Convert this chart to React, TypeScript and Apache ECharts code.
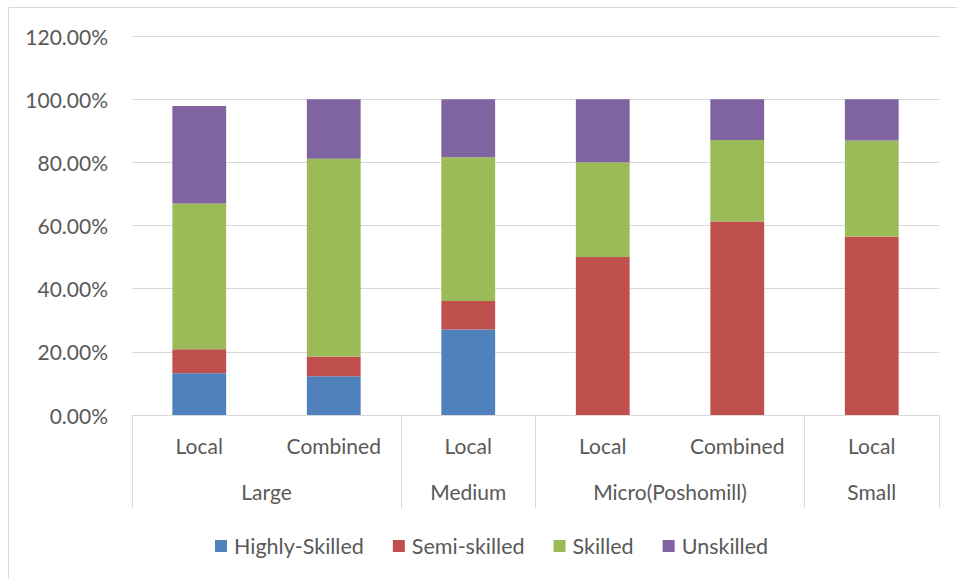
import React, { useEffect, useRef } from "react";
import * as echarts from "echarts";

// Sub-categories along the x axis, left to right
const subCategories = ["Local", "Combined", "Local", "Local", "Combined", "Local"];
// Enterprise size groups and how many sub-categories each spans
const groups = ["Large", "Medium", "Micro(Poshomill)", "Small"];
const groupSpans = [2, 1, 2, 1];

// Share of workers by skill level (%)
const highlySkilled = [13.2, 12.3, 27.1, 0, 0, 0];
const semiSkilled = [7.6, 6.2, 9.0, 50.0, 61.3, 56.5];
const skilled = [46.2, 62.6, 45.5, 30.0, 25.8, 30.4];
const unskilled = [30.8, 18.9, 18.4, 20.0, 12.9, 13.1];

const seriesNames = ["Highly-Skilled", "Semi-skilled", "Skilled", "Unskilled"];
const seriesValues = [highlySkilled, semiSkilled, skilled, unskilled];
const seriesColors = ["#4f81bd", "#c0504d", "#9bbb59", "#8064a2"];

const FONT = "Lato, 'Open Sans', sans-serif";
const TEXT = "#595959";
const GRID_LINE = "#d9d9d9";

export default function App() {
  const ref = useRef<HTMLDivElement>(null);

  useEffect(() => {
    if (!ref.current) return;
    const chart = echarts.init(ref.current, undefined, { renderer: "svg" });

    // group boundaries and centres in sub-category units
    const boundaries: number[] = [0];
    const centres: number[] = [];
    let acc = 0;
    groupSpans.forEach((s) => {
      centres.push(acc + s / 2);
      acc += s;
      boundaries.push(acc);
    });

    chart.setOption({
      animation: false,
      textStyle: { fontFamily: FONT },
      graphic: [
        {
          type: "rect",
          shape: { x: 8.5, y: 7.5, width: 1000, height: 600 },
          style: { fill: "none", stroke: GRID_LINE, lineWidth: 1 },
          silent: true,
        },
      ],
      grid: { left: 132, right: 18, top: 36, bottom: 164 },
      legend: {
        data: seriesNames,
        left: 210,
        top: 530,
        icon: "rect",
        itemWidth: 12,
        itemHeight: 12,
        itemGap: 29,
        textStyle: { fontFamily: FONT, fontSize: 21.5, color: TEXT, padding: [0, 0, 0, 2] },
      },
      xAxis: [
        {
          type: "category",
          data: subCategories,
          position: "bottom",
          axisLine: { show: true, lineStyle: { color: GRID_LINE, width: 1 } },
          axisTick: { show: false },
          axisLabel: { fontFamily: FONT, fontSize: 21, color: TEXT, margin: 20, interval: 0 },
        },
        {
          type: "value",
          min: 0,
          max: subCategories.length,
          position: "bottom",
          axisLine: { show: false },
          splitLine: { show: false },
          axisTick: {
            show: true,
            length: 93,
            customValues: boundaries,
            lineStyle: { color: GRID_LINE, width: 1 },
          },
          axisLabel: {
            customValues: centres,
            fontFamily: FONT,
            fontSize: 21,
            color: TEXT,
            margin: 66,
            formatter: (v: number) => {
              const i = centres.findIndex((c) => Math.abs(c - v) < 1e-6);
              return i >= 0 ? groups[i] : "";
            },
          },
        },
      ],
      yAxis: {
        type: "value",
        min: 0,
        max: 120,
        interval: 20,
        axisLine: { show: false },
        axisTick: { show: false },
        splitLine: { lineStyle: { color: GRID_LINE, width: 1 } },
        axisLabel: {
          fontFamily: FONT,
          fontSize: 21,
          color: TEXT,
          margin: 24,
          formatter: (v: number) => v.toFixed(2) + "%",
        },
      },
      series: seriesNames.map((name, i) => ({
        name,
        type: "bar",
        stack: "total",
        barWidth: "40%",
        xAxisIndex: 0,
        data: seriesValues[i],
        itemStyle: { color: seriesColors[i] },
      })),
    });

    return () => chart.dispose();
  }, []);

  return (
    <div
      ref={ref}
      style={{ position: "absolute", left: 0, top: 0, width: 957, height: 579, background: "#fff" }}
    />
  );
}
